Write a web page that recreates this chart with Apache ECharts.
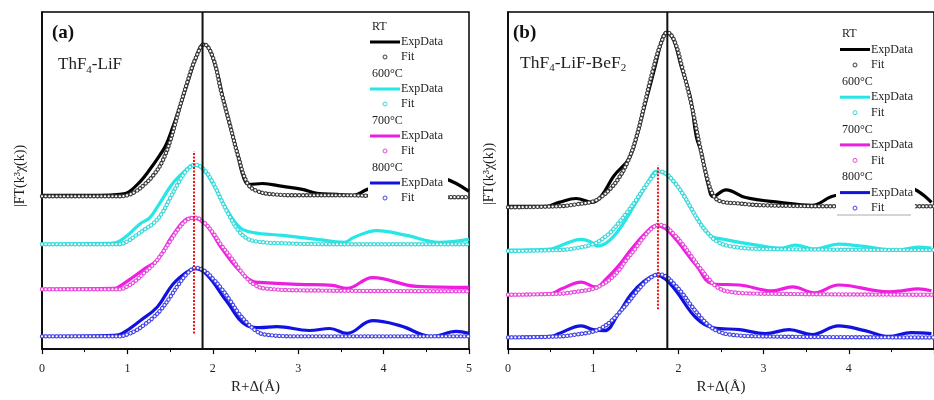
<!DOCTYPE html>
<html>
<head>
<meta charset="utf-8">
<script src="https://cdn.jsdelivr.net/npm/echarts@6/dist/echarts.min.js"></script>
<style>
  html, body { margin: 0; padding: 0; background: #fff; }
  #chart { width: 934px; height: 400px; }
</style>
</head>
<body>
<div id="chart"></div>
<script>
  // legend groups and colours
  const groups = ['RT', '600°C', '700°C', '800°C'];
  const expColors = ['#000000', '#26e6e6', '#ee1ee0', '#1212e0'];
  const fitColors = ['#3a3a3a', '#3ad8d8', '#e848dc', '#4444e6'];

  // (a) ThF4-LiF, [R, |FT|] (arbitrary units)
  const aExpRT = [[0,157],[0.68,157],[0.91,158],[1.01,160],[1.15,171],[1.26,183],[1.38,198],[1.45,208],[1.53,226],[1.64,254],[1.73,279],[1.81,299],[1.89,311],[1.96,306],[2.05,283],[2.12,256],[2.20,229],[2.29,199],[2.37,173],[2.43,168],[2.58,169],[2.82,166],[3.05,163],[3.22,159],[3.45,158],[3.64,157],[3.81,163],[4.19,173],[4.48,176],[4.71,174],[5.0,161]];
  const aFitRT = [[0,156],[0.9,156],[1.0,157],[1.1,161],[1.2,168],[1.3,177],[1.4,190],[1.5,212],[1.6,243],[1.7,272],[1.8,297],[1.9,311],[2.0,298],[2.1,262],[2.2,229],[2.3,196],[2.4,170],[2.5,162],[2.7,158],[3.0,157],[3.5,157],[4.0,156],[4.5,155],[5.0,155]];
  const aExp600 = [[0,107],[0.8,108],[0.88,109],[1.0,116],[1.15,128],[1.26,134],[1.38,149],[1.53,169],[1.70,184],[1.77,188],[1.88,184],[2.0,169],[2.16,143],[2.32,124],[2.47,119],[2.82,116],[3.22,112],[3.54,109],[3.65,114],[3.92,121],[4.27,116],[4.65,109],[5.0,112]];
  const aFit600 = [[0,107],[0.9,107],[1.0,110],[1.1,116],[1.2,122],[1.3,128],[1.4,138],[1.5,154],[1.6,170],[1.7,183],[1.8,188],[1.9,183],[2.0,170],[2.1,152],[2.2,135],[2.3,121],[2.4,113],[2.5,110],[2.8,108],[3.5,107],[5.0,107]];
  const aExp700 = [[0,61],[0.85,62],[0.89,63],[1.06,73],[1.2,82],[1.35,91],[1.53,116],[1.70,133],[1.77,134],[1.93,126],[2.08,106],[2.28,83],[2.47,69],[2.55,68],[3.02,66],[3.40,65],[3.57,62],[3.87,73],[4.39,64],[5.0,63]];
  const aFit700 = [[0,61],[0.9,61],[1.0,64],[1.1,70],[1.2,78],[1.3,86],[1.4,97],[1.5,110],[1.6,123],[1.7,132],[1.8,134],[1.9,129],[2.0,119],[2.1,106],[2.2,95],[2.3,83],[2.4,72],[2.5,65],[2.6,62],[3.0,60],[5.0,59]];
  const aExp800 = [[0,13],[0.85,14],[0.94,16],[1.15,29],[1.35,43],[1.53,66],[1.70,79],[1.79,82],[1.93,76],[2.16,49],[2.40,24],[2.55,22],[2.75,23],[3.13,19],[3.37,21],[3.57,16],[3.87,29],[4.19,24],[4.57,13],[4.85,18],[5.0,16]];
  const aFit800 = [[0,13],[0.9,13],[1.0,15],[1.1,19],[1.2,25],[1.3,32],[1.4,41],[1.5,53],[1.6,66],[1.7,77],[1.8,83],[1.9,80],[2.0,72],[2.1,62],[2.2,50],[2.3,37],[2.4,27],[2.5,19],[2.6,15],[3.0,13],[5.0,13]];

  // (b) ThF4-LiF-BeF2
  const bExpRT = [[0,147],[0.45,147],[0.6,151],[0.8,155],[0.99,151],[1.1,158],[1.24,178],[1.42,196],[1.51,219],[1.63,259],[1.73,292],[1.80,316],[1.86,326],[1.94,319],[2.03,292],[2.14,259],[2.21,219],[2.27,202],[2.35,169],[2.41,157],[2.56,164],[2.79,156],[3.19,151],[3.57,148],[3.80,157],[4.2,165],[4.5,168],[4.73,166],[4.97,151]];
  const bFitRT = [[0,146],[0.6,147],[0.8,149],[1.0,152],[1.1,157],[1.2,165],[1.3,176],[1.4,192],[1.5,216],[1.6,251],[1.7,287],[1.8,316],[1.87,326],[1.95,318],[2.05,288],[2.15,253],[2.25,210],[2.35,172],[2.42,157],[2.5,152],[2.7,150],[3.0,148],[4.0,147],[5.0,147]];
  const bExp600 = [[0,102],[0.5,103],[0.63,107],[0.86,113],[0.98,110],[1.05,106],[1.24,116],[1.51,152],[1.67,176],[1.74,183],[1.85,180],[1.98,169],[2.21,136],[2.37,117],[2.47,114],[2.99,106],[3.22,104],[3.37,107],[3.60,103],[3.88,108],[4.15,106],[4.58,102],[4.81,105],[4.97,104]];
  const bFit600 = [[0,101],[0.6,102],[0.8,104],[1.0,108],[1.1,113],[1.2,120],[1.3,130],[1.4,141],[1.5,153],[1.6,166],[1.7,178],[1.77,183],[1.85,181],[1.95,172],[2.05,160],[2.15,145],[2.25,130],[2.35,119],[2.45,111],[2.6,106],[3.0,103],[5.0,102]];
  const bExp700 = [[0,56],[0.5,57],[0.63,62],[0.86,69],[1.03,64],[1.15,72],[1.3,86],[1.44,102],[1.6,118],[1.74,127],[1.85,124],[1.98,112],[2.21,86],[2.41,67],[2.72,66],[3.10,60],[3.34,64],[3.60,58],[3.88,66],[4.47,59],[4.62,60],[4.81,62],[4.97,60]];
  const bFit700 = [[0,56],[0.6,57],[0.8,59],[1.0,62],[1.1,66],[1.2,72],[1.3,81],[1.4,93],[1.5,104],[1.6,116],[1.7,125],[1.77,128],[1.85,126],[1.95,118],[2.05,108],[2.15,96],[2.25,84],[2.35,73],[2.45,64],[2.6,59],[3.0,57],[5.0,56]];
  const bExp800 = [[0,12],[0.5,13],[0.6,16],[0.86,24],[1.0,20],[1.13,19],[1.3,37],[1.44,56],[1.6,70],[1.74,76],[1.85,72],[1.98,59],[2.21,32],[2.41,22],[2.72,20],[3.02,16],[3.30,20],[3.57,15],[3.88,24],[4.19,19],[4.47,13],[4.73,17],[4.97,16]];
  const bFit800 = [[0,12],[0.6,13],[0.8,15],[1.0,18],[1.1,22],[1.2,28],[1.3,37],[1.4,47],[1.5,58],[1.6,68],[1.7,75],[1.77,77],[1.85,75],[1.95,67],[2.05,57],[2.15,45],[2.25,34],[2.35,25],[2.45,19],[2.6,15],[3.0,13],[5.0,12]];

  // reference lines: black solid R, red dotted R and its span
  const aBlackR = 1.88, aRedR = 1.78, aRedSpan = [16, 202];
  const bBlackR = 1.87, bRedR = 1.76, bRedSpan = [41, 189];
  const yMaxA = 344, yMaxB = 347;

  const serif = '"Liberation Serif", "DejaVu Serif", serif';
  const chart = echarts.init(document.getElementById('chart'));

  function xAxisOf(idx) {
    return {
      gridIndex: idx, type: 'value', min: 0, max: 5, interval: 1,
      axisLine: { lineStyle: { color: '#000', width: 1.5 } },
      axisTick: { length: 5, lineStyle: { color: '#000', width: 1.2 } },
      minorTick: { show: true, splitNumber: 2, length: 3, lineStyle: { color: '#000', width: 1 } },
      axisLabel: { margin: 14, color: '#222', fontFamily: serif, fontSize: 12, showMaxLabel: idx === 0 },
      splitLine: { show: false },
      name: 'R+Δ(Å)', nameLocation: 'middle', nameGap: 29,
      nameTextStyle: { fontFamily: serif, fontSize: 15, color: '#222' }
    };
  }
  function yAxisOf(idx, max) {
    return {
      gridIndex: idx, type: 'value', min: 0, max: max,
      axisLine: { show: true, lineStyle: { color: '#000', width: 1.5 } },
      axisTick: { show: false }, axisLabel: { show: false }, splitLine: { show: false }
    };
  }

  function panelSeries(idx, exps, fits, blackR, redR, redSpan, yMax) {
    const out = [];
    exps.forEach((d, i) => {
      out.push({
        type: 'line', xAxisIndex: idx, yAxisIndex: idx, data: d, smooth: 0.4,
        symbol: 'none', z: 2, lineStyle: { color: expColors[i], width: 3.2 }
      });
    });
    fits.forEach((d, i) => {
      out.push({
        type: 'line', xAxisIndex: idx, yAxisIndex: idx, data: d, smooth: 0.4,
        symbol: 'none', z: 3, lineStyle: { color: fitColors[i], width: 4.4, type: [0.1, 3.6], cap: 'round' }
      });
      out.push({
        type: 'line', xAxisIndex: idx, yAxisIndex: idx, data: d, smooth: 0.4,
        symbol: 'none', z: 4, lineStyle: { color: '#fff', width: 2.2, type: [0.1, 3.6], cap: 'round' }
      });
    });
    out.push({
      type: 'line', xAxisIndex: idx, yAxisIndex: idx, symbol: 'none', z: 5,
      data: [[blackR, 0], [blackR, yMax]], lineStyle: { color: '#111', width: 2 }
    });
    out.push({
      type: 'line', xAxisIndex: idx, yAxisIndex: idx, symbol: 'none', z: 5,
      data: [[redR, redSpan[0]], [redR, redSpan[1]]], lineStyle: { color: '#f01010', width: 2, type: [2, 1.5] }
    });
    return out;
  }

  function legendGraphic(rect, x0, yStart, step, sub, bottomLine) {
    const els = [{ type: 'rect', shape: rect, style: { fill: '#fff' }, z: 50 }];
    if (bottomLine) {
      els.push({ type: 'line', shape: { x1: rect.x + 1, y1: rect.y + rect.height, x2: rect.x + rect.width - 4, y2: rect.y + rect.height }, style: { stroke: '#aaa', lineWidth: 1 }, z: 51 });
    }
    const font = '12px ' + serif;
    groups.forEach((g, i) => {
      const y = yStart + i * step;
      els.push({ type: 'text', x: x0 + 2, y: y, z: 51, style: { text: g, font: font, fill: '#222', verticalAlign: 'middle' } });
      els.push({ type: 'line', z: 51, shape: { x1: x0, y1: y + sub, x2: x0 + 30, y2: y + sub }, style: { stroke: expColors[i], lineWidth: 3 } });
      els.push({ type: 'text', x: x0 + 31, y: y + sub, z: 51, style: { text: 'ExpData', font: font, fill: '#222', verticalAlign: 'middle' } });
      els.push({ type: 'circle', z: 51, shape: { cx: x0 + 15, cy: y + 2 * sub, r: 2 }, style: { fill: '#fff', stroke: fitColors[i], lineWidth: 1 } });
      els.push({ type: 'text', x: x0 + 31, y: y + 2 * sub, z: 51, style: { text: 'Fit', font: font, fill: '#222', verticalAlign: 'middle' } });
    });
    return els;
  }

  function titleText(x, y, parts, size) {
    return {
      type: 'text', x: x, y: y, z: 51,
      style: {
        text: parts, verticalAlign: 'middle', fill: '#222',
        rich: {
          n: { fontFamily: serif, fontSize: size, color: '#222', lineHeight: 22, verticalAlign: 'middle' },
          s: { fontFamily: serif, fontSize: 11, color: '#222', lineHeight: 22, verticalAlign: 'bottom', padding: [10, 0, 0, 0] }
        }
      }
    };
  }

  const yName = '|FT(k³χ(k))';

  const option = {
    animation: false,
    backgroundColor: '#fff',
    grid: [
      { left: 42, top: 12, width: 427, height: yMaxA, show: true, borderColor: '#000', borderWidth: 1.5, backgroundColor: 'transparent' },
      { left: 508, top: 12, width: 430, height: yMaxB, show: true, borderColor: '#000', borderWidth: 1.5, backgroundColor: 'transparent' }
    ],
    xAxis: [xAxisOf(0), xAxisOf(1)],
    yAxis: [yAxisOf(0, yMaxA), yAxisOf(1, yMaxB)],
    series: [].concat(
      panelSeries(0, [aExpRT, aExp600, aExp700, aExp800], [aFitRT, aFit600, aFit700, aFit800], aBlackR, aRedR, aRedSpan, yMaxA),
      panelSeries(1, [bExpRT, bExp600, bExp700, bExp800], [bFitRT, bFit600, bFit700, bFit800], bBlackR, bRedR, bRedSpan, yMaxB)
    ),
    graphic: [].concat(
      legendGraphic({ x: 368, y: 17, width: 80, height: 189 }, 370, 27, 47, 15, false),
      legendGraphic({ x: 836, y: 24, width: 79, height: 191 }, 840, 34, 47.7, 15.5, true),
      [
        { type: 'text', x: 52, y: 33, z: 51, style: { text: '(a)', font: 'bold 19px ' + serif, fill: '#111', verticalAlign: 'middle' } },
        { type: 'text', x: 513, y: 33, z: 51, style: { text: '(b)', font: 'bold 19px ' + serif, fill: '#111', verticalAlign: 'middle' } },
        titleText(58, 65, '{n|ThF}{s|4}{n|-LiF}', 17),
        titleText(520, 63, '{n|ThF}{s|4}{n|-LiF-BeF}{s|2}', 17.5),
        { type: 'text', x: 20, y: 176, rotation: Math.PI / 2, z: 51, style: { text: yName, font: '14px ' + serif, fill: '#222', align: 'center', verticalAlign: 'middle' } },
        { type: 'text', x: 489, y: 174, rotation: Math.PI / 2, z: 51, style: { text: yName, font: '14px ' + serif, fill: '#222', align: 'center', verticalAlign: 'middle' } }
      ]
    )
  };

  chart.setOption(option);
</script>
</body>
</html>
